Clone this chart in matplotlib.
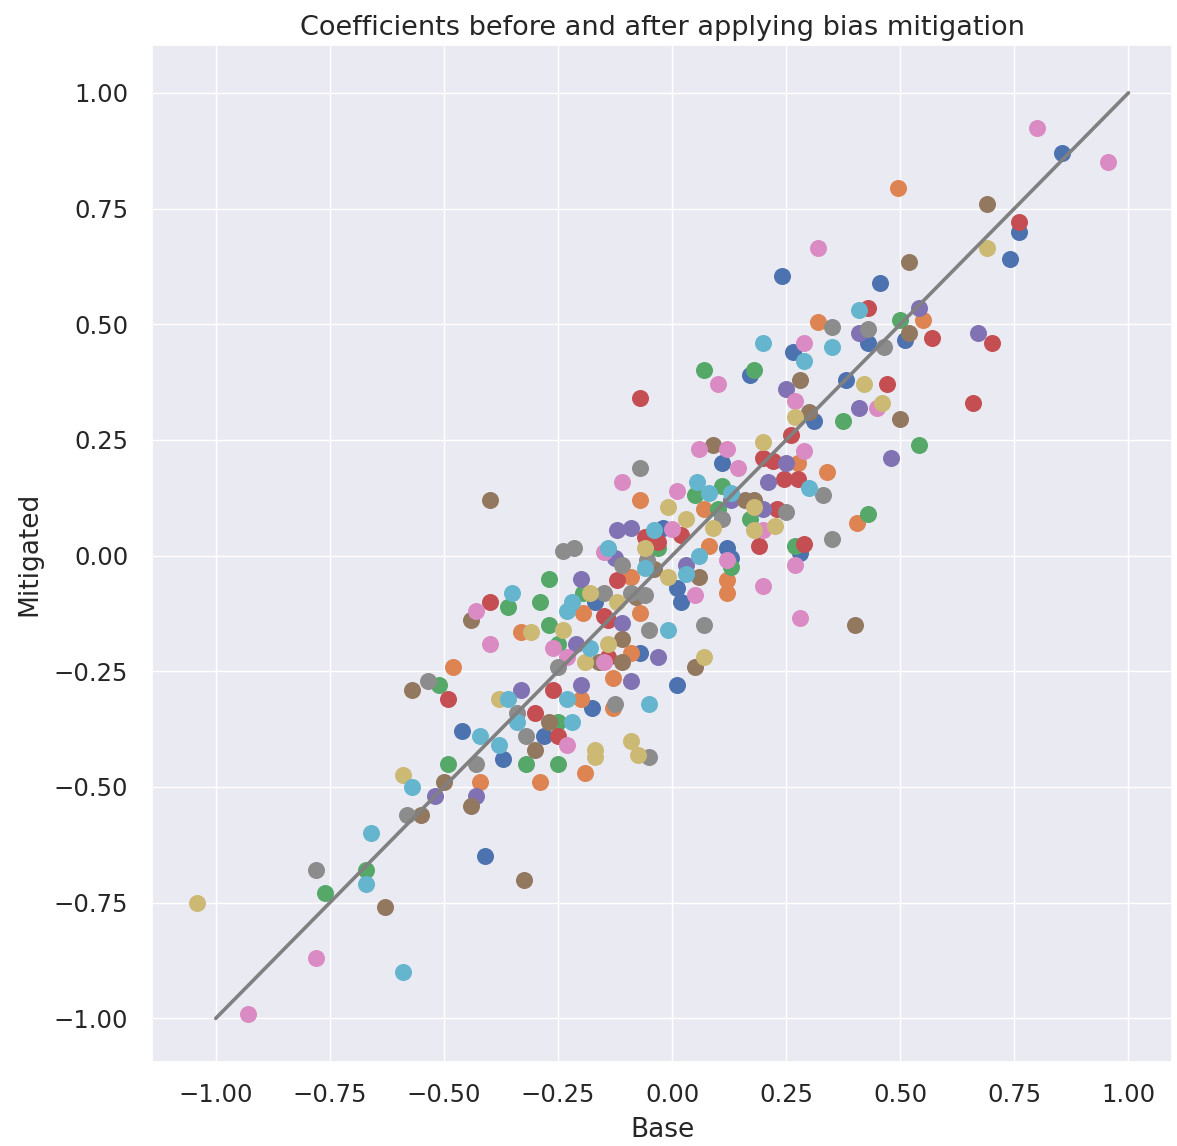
import matplotlib
matplotlib.use("Agg")
import matplotlib.pyplot as plt
import seaborn as sns

sns.set_theme()

# Coefficient pairs (base model, mitigated model), grouped by plot colour
blue_base = [-0.46, -0.28, -0.37, 0.11, -0.02, 0.12, 0.13, 0.01, 0.02, -0.17, -0.07, 0.01, -0.175,
             0.17, 0.43, 0.51, 0.265, 0.38, 0.31, 0.28, 0.855, 0.76, 0.74, 0.24, 0.455, -0.41]
blue_mit = [-0.38, -0.39, -0.44, 0.20, 0.06, 0.016, -0.005, -0.07, -0.10, -0.10, -0.21, -0.28, -0.33,
            0.39, 0.46, 0.465, 0.44, 0.38, 0.29, 0.005, 0.87, 0.70, 0.64, 0.605, 0.59, -0.65]

orange_base = [-0.48, -0.29, -0.42, -0.33, -0.07, 0.07, 0.08, -0.09, 0.12, 0.12, -0.07, -0.195,
               -0.09, -0.13, -0.20, -0.13, -0.19, 0.32, 0.55, 0.275, 0.34, 0.405, 0.495]
orange_mit = [-0.24, -0.49, -0.49, -0.165, 0.12, 0.10, 0.02, -0.046, -0.053, -0.08, -0.125, -0.125,
              -0.21, -0.265, -0.31, -0.33, -0.47, 0.505, 0.51, 0.20, 0.18, 0.07, 0.795]

green_base = [-0.76, -0.67, -0.51, -0.25, -0.32, -0.25, -0.49, -0.25, -0.27, -0.36, -0.29, -0.27,
              0.05, 0.11, 0.10, 0.17, -0.03, 0.13, -0.195, 0.07, 0.18, 0.50, 0.375, 0.54, 0.43, 0.27]
green_mit = [-0.73, -0.68, -0.28, -0.36, -0.45, -0.45, -0.45, -0.19, -0.05, -0.11, -0.10, -0.15,
             0.13, 0.15, 0.10, 0.08, 0.016, -0.025, -0.08, 0.40, 0.40, 0.51, 0.29, 0.24, 0.09, 0.02]

red_base = [-0.49, -0.26, -0.30, -0.25, -0.40, -0.06, -0.03, 0.02, -0.12, -0.15, -0.14, -0.14,
            -0.07, 0.43, 0.70, 0.57, 0.47, 0.66, 0.26, 0.20, 0.22, 0.245, 0.275, 0.23, 0.29,
            0.19, 0.76]
red_mit = [-0.31, -0.29, -0.34, -0.39, -0.10, 0.04, 0.03, 0.045, -0.053, -0.13, -0.14, -0.22,
           0.34, 0.535, 0.46, 0.47, 0.37, 0.33, 0.26, 0.21, 0.205, 0.165, 0.165, 0.10, 0.025,
           0.02, 0.72]

purple_base = [-0.33, -0.52, -0.43, -0.21, -0.20, 0.13, -0.12, -0.09, -0.125, 0.03, -0.11, -0.03,
               -0.09, -0.20, 0.54, 0.41, 0.67, 0.25, 0.41, 0.48, 0.25, 0.21, 0.20]
purple_mit = [-0.29, -0.52, -0.52, -0.19, -0.05, 0.12, 0.055, 0.06, -0.005, -0.02, -0.145, -0.22,
              -0.27, -0.28, 0.535, 0.48, 0.48, 0.36, 0.32, 0.21, 0.20, 0.16, 0.10]

brown_base = [-0.63, -0.55, -0.57, -0.27, -0.30, -0.50, -0.44, -0.40, -0.44, 0.16, 0.18, -0.04,
              0.06, -0.08, -0.11, -0.16, -0.11, 0.05, 0.09, 0.52, 0.28, 0.30, 0.50, 0.40, 0.69,
              0.52, -0.325]
brown_mit = [-0.76, -0.56, -0.29, -0.36, -0.42, -0.49, -0.54, 0.12, -0.14, 0.12, 0.12, -0.03,
             -0.046, -0.09, -0.18, -0.23, -0.23, -0.24, 0.24, 0.48, 0.38, 0.31, 0.295, -0.15, 0.76,
             0.635, -0.70]

pink_base = [-0.93, -0.78, -0.40, -0.23, -0.26, -0.23, -0.43, -0.11, 0.145, 0.01, 0.00, -0.15,
             0.12, 0.05, -0.15, 0.10, 0.06, 0.12, 0.29, 0.27, 0.45, 0.29, 0.20, 0.27, 0.20, 0.28,
             0.80, 0.955, 0.32]
pink_mit = [-0.99, -0.87, -0.19, -0.41, -0.20, -0.22, -0.12, 0.16, 0.19, 0.14, 0.057, 0.008,
            -0.01, -0.085, -0.23, 0.37, 0.23, 0.23, 0.46, 0.335, 0.32, 0.225, 0.055, -0.02, -0.065,
            -0.135, 0.925, 0.85, 0.665]

gray_base = [-0.78, -0.58, -0.535, -0.34, -0.32, -0.43, -0.25, -0.24, -0.215, -0.07, 0.11, -0.11,
             -0.055, -0.15, -0.09, -0.06, -0.05, 0.07, -0.125, -0.05, 0.35, 0.43, 0.465, 0.33,
             0.25, 0.35]
gray_mit = [-0.68, -0.56, -0.27, -0.34, -0.39, -0.45, -0.24, 0.01, 0.016, 0.19, 0.08, -0.02,
            -0.01, -0.08, -0.08, -0.085, -0.16, -0.15, -0.32, -0.435, 0.495, 0.49, 0.45, 0.13,
            0.095, 0.035]

olive_base = [-1.04, -0.59, -0.38, -0.31, -0.24, -0.01, 0.18, 0.03, 0.18, 0.09, -0.06, -0.01,
              -0.18, -0.12, -0.14, -0.19, 0.07, -0.09, -0.17, -0.17, -0.075, 0.42, 0.46, 0.27,
              0.20, 0.225, 0.69]
olive_mit = [-0.75, -0.475, -0.31, -0.165, -0.16, 0.105, 0.105, 0.08, 0.055, 0.06, 0.016, -0.046,
             -0.08, -0.10, -0.19, -0.23, -0.22, -0.40, -0.42, -0.435, -0.43, 0.37, 0.33, 0.30,
             0.245, 0.065, 0.665]

cyan_base = [-0.67, -0.66, -0.59, -0.57, -0.36, -0.23, -0.42, -0.38, -0.34, -0.22, -0.35, -0.22,
             -0.23, 0.055, 0.08, 0.13, -0.04, -0.14, -0.06, 0.06, 0.03, -0.01, -0.18, -0.05,
             0.41, 0.20, 0.35, 0.29, 0.30]
cyan_mit = [-0.71, -0.60, -0.90, -0.50, -0.31, -0.31, -0.39, -0.41, -0.36, -0.36, -0.08, -0.10,
            -0.12, 0.16, 0.135, 0.135, 0.055, 0.016, -0.027, 0.00, -0.04, -0.16, -0.20, -0.32,
            0.53, 0.46, 0.45, 0.42, 0.145]

groups = [
    (blue_base, blue_mit),
    (orange_base, orange_mit),
    (green_base, green_mit),
    (red_base, red_mit),
    (purple_base, purple_mit),
    (brown_base, brown_mit),
    (pink_base, pink_mit),
    (gray_base, gray_mit),
    (olive_base, olive_mit),
    (cyan_base, cyan_mit),
]
palette = sns.color_palette("deep", 10)

fig, ax = plt.subplots(figsize=(11.77, 11.46), dpi=100)
fig.subplots_adjust(left=0.129, right=0.996, bottom=0.073, top=0.961)

for (xs, ys), col in zip(groups, palette):
    ax.scatter(xs, ys, s=150, color=col, linewidths=0, zorder=2)

# identity line: no change between base and mitigated
ax.plot([-1, 1], [-1, 1], color="gray", linewidth=2.6, zorder=3)

ax.set_xlim(-1.14, 1.096)
ax.set_ylim(-1.095, 1.104)
ax.set_xticks([-1.0, -0.75, -0.5, -0.25, 0.0, 0.25, 0.5, 0.75, 1.0])
ax.set_yticks([-1.0, -0.75, -0.5, -0.25, 0.0, 0.25, 0.5, 0.75, 1.0])
ax.tick_params(axis="x", labelsize=17.5, pad=9)
ax.tick_params(axis="y", labelsize=17.5, pad=11)
ax.set_xlabel("Base", fontsize=19, labelpad=7)
ax.set_ylabel("Mitigated", fontsize=19, labelpad=8)
ax.set_title("Coefficients before and after applying bias mitigation", fontsize=19.5, pad=7)

plt.savefig("out.png", dpi=100)
